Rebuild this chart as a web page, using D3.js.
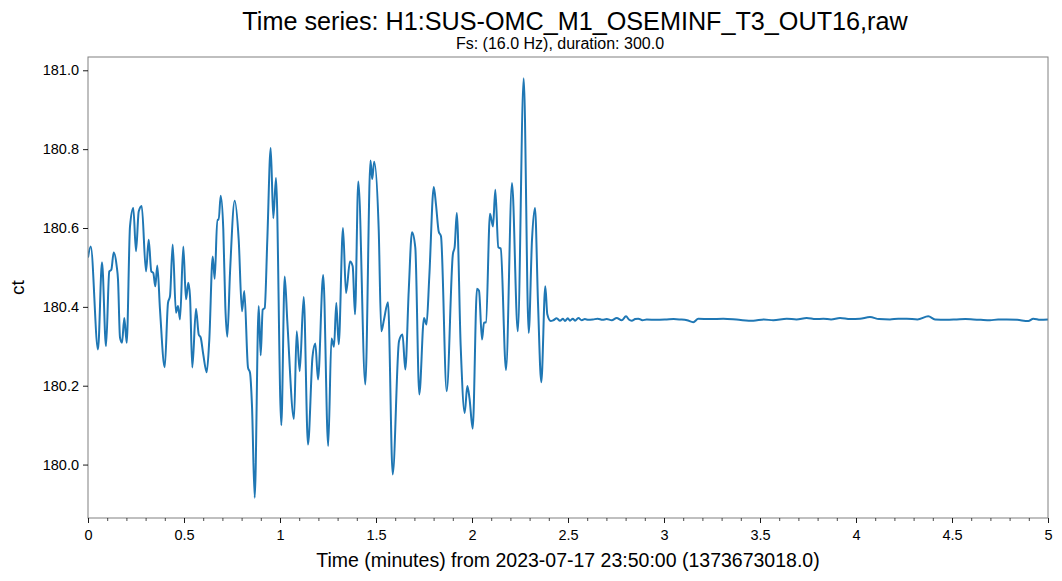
<!DOCTYPE html>
<html>
<head>
<meta charset="utf-8">
<script src="https://cdn.jsdelivr.net/npm/d3@7"></script>
<style>
  body { margin: 0; background: #fff; }
  svg { display: block; font-family: "Liberation Sans", Arial, Helvetica, sans-serif; }
</style>
</head>
<body>
<svg id="chart" width="1062" height="581"></svg>
<script>
const titleText = "Time series: H1:SUS-OMC_M1_OSEMINF_T3_OUT16,raw";
const subtitleText = "Fs: (16.0 Hz), duration: 300.0";
const xLabelText = "Time (minutes) from 2023-07-17 23:50:00 (1373673018.0)";
const yLabelText = "ct";

const xTicks = [0, 0.5, 1, 1.5, 2, 2.5, 3, 3.5, 4, 4.5, 5];
const xTickLabels = ["0", "0.5", "1", "1.5", "2", "2.5", "3", "3.5", "4", "4.5", "5"];
const yTicks = [180.0, 180.2, 180.4, 180.6, 180.8, 181.0];
const yTickLabels = ["180.0", "180.2", "180.4", "180.6", "180.8", "181.0"];

// time in minutes
const timeMin = [
  0, 0.0141, 0.0521, 0.0729, 0.0938, 0.1109, 0.1214, 0.1339, 0.1495, 0.1563,
  0.1667, 0.1771, 0.1891, 0.2016, 0.2188, 0.2359, 0.25, 0.2641, 0.2797, 0.3021,
  0.3161, 0.3297, 0.3401, 0.3505, 0.3609, 0.375, 0.3995, 0.4167, 0.4271, 0.4411,
  0.4583, 0.4688, 0.4792, 0.4964, 0.5104, 0.5224, 0.5313, 0.5432, 0.5625, 0.5766,
  0.5870, 0.6005, 0.6182, 0.6318, 0.6495, 0.6599, 0.6734, 0.6807, 0.6911, 0.7047,
  0.7151, 0.7255, 0.7396, 0.7641, 0.7849, 0.8021, 0.8141, 0.8333, 0.8438, 0.8542,
  0.8682, 0.8891, 0.8995, 0.9099, 0.9203, 0.9339, 0.9516, 0.9651, 0.9792, 1.0068,
  1.0245, 1.0380, 1.0729, 1.0870, 1.1026, 1.1234, 1.1458, 1.1693, 1.1839, 1.1979,
  1.2250, 1.2510, 1.2682, 1.2813, 1.2932, 1.3057, 1.3281, 1.3438, 1.3646, 1.3786,
  1.3906, 1.4078, 1.4443, 1.4714, 1.4802, 1.4906, 1.5141, 1.5276, 1.5417, 1.5625,
  1.5870, 1.6198, 1.6380, 1.6526, 1.6703, 1.6875, 1.7047, 1.7255, 1.75, 1.7630,
  1.7776, 1.8010, 1.8125, 1.8266, 1.8385, 1.8682, 1.9, 1.9099, 1.9208, 1.9411,
  1.9620, 1.9755, 1.9870, 2.0036, 2.0260, 2.0365, 2.0521, 2.0625, 2.0729, 2.0938,
  2.1094, 2.1214, 2.1370, 2.1495, 2.1771, 2.2083, 2.2385, 2.2693, 2.2953, 2.3125,
  2.3281, 2.3438, 2.3609, 2.3818, 2.3922, 2.4099, 2.4234, 2.4410, 2.4583, 2.4740,
  2.4844, 2.4990, 2.5104, 2.5250, 2.5365, 2.5540, 2.5714, 2.5880, 2.6057, 2.6300,
  2.6550, 2.6800, 2.7016, 2.7280, 2.7536, 2.7797, 2.8021, 2.8170, 2.8318, 2.8500,
  2.8661, 2.8880, 2.9099, 2.9600, 3.0141, 3.0500, 3.0833, 3.1200, 3.1526, 3.1786,
  3.2400, 3.3089, 3.3900, 3.4651, 3.5200, 3.5693, 3.6391, 3.6900, 3.7432, 3.7900,
  3.8297, 3.8700, 3.9167, 3.9700, 4.0208, 4.0729, 4.1200, 4.1771, 4.2200, 4.2641,
  4.3200, 4.3766, 4.4115, 4.4700, 4.5245, 4.5700, 4.6109, 4.6500, 4.6979, 4.7400,
  4.7849, 4.8400, 4.8974, 4.9234, 4.9600, 5.0
];

// values in ct
const valueCt = [
  180.525, 180.553, 180.292, 180.513, 180.300, 180.490, 180.494, 180.538, 180.503, 180.469,
  180.322, 180.309, 180.372, 180.309, 180.604, 180.651, 180.541, 180.642, 180.656, 180.490,
  180.570, 180.490, 180.486, 180.452, 180.505, 180.393, 180.247, 180.410, 180.427, 180.558,
  180.385, 180.402, 180.368, 180.553, 180.419, 180.461, 180.427, 180.246, 180.395, 180.330,
  180.322, 180.279, 180.234, 180.317, 180.528, 180.471, 180.621, 180.621, 180.682, 180.596,
  180.402, 180.324, 180.486, 180.669, 180.570, 180.389, 180.440, 180.246, 180.233, 180.148,
  179.916, 180.402, 180.277, 180.393, 180.397, 180.570, 180.803, 180.625, 180.727, 180.100,
  180.477, 180.364, 180.116, 180.338, 180.237, 180.425, 180.051, 180.273, 180.307, 180.216,
  180.481, 180.047, 180.320, 180.299, 180.410, 180.305, 180.600, 180.435, 180.515, 180.503,
  180.381, 180.718, 180.203, 180.771, 180.724, 180.768, 180.596, 180.338, 180.368, 180.412,
  179.975, 180.313, 180.330, 180.241, 180.439, 180.589, 180.550, 180.178, 180.372, 180.355,
  180.477, 180.704, 180.659, 180.591, 180.579, 180.186, 180.532, 180.553, 180.638, 180.300,
  180.131, 180.199, 180.168, 180.091, 180.446, 180.441, 180.317, 180.360, 180.361, 180.636,
  180.604, 180.697, 180.551, 180.548, 180.240, 180.714, 180.338, 180.980, 180.334, 180.570,
  180.651, 180.410, 180.209, 180.452, 180.381, 180.364, 180.366, 180.371, 180.365, 180.370,
  180.364, 180.371, 180.365, 180.370, 180.365, 180.372, 180.366, 180.369, 180.367, 180.368,
  180.370, 180.367, 180.369, 180.366, 180.372, 180.366, 180.376, 180.368, 180.365, 180.369,
  180.370, 180.366, 180.368, 180.367, 180.368, 180.369, 180.368, 180.366, 180.361, 180.370,
  180.369, 180.370, 180.367, 180.365, 180.368, 180.366, 180.370, 180.368, 180.372, 180.369,
  180.370, 180.368, 180.372, 180.369, 180.370, 180.374, 180.369, 180.368, 180.370, 180.370,
  180.368, 180.376, 180.368, 180.367, 180.368, 180.369, 180.368, 180.367, 180.366, 180.368,
  180.368, 180.367, 180.364, 180.370, 180.367, 180.368
];

const margin = { left: 88, right: 1048, top: 57, bottom: 518 };
const svg = d3.select("#chart");

const x = d3.scaleLinear().domain([0, 5]).range([margin.left, margin.right]);
const y = d3.scaleLinear().domain([179.8645, 181.0337]).range([margin.bottom, margin.top]);

const data = timeMin.map((t, i) => ({ t, v: valueCt[i] }));

svg.append("defs").append("clipPath").attr("id", "clip")
  .append("rect").attr("x", margin.left).attr("y", margin.top)
  .attr("width", margin.right - margin.left).attr("height", margin.bottom - margin.top);

const line = d3.line().x(d => x(d.t)).y(d => y(d.v)).curve(d3.curveMonotoneX);
svg.append("path").datum(data)
  .attr("clip-path", "url(#clip)")
  .attr("d", line)
  .attr("fill", "none")
  .attr("stroke", "#1f77b4")
  .attr("stroke-width", 2)
  .attr("stroke-linejoin", "round");

// frame
svg.append("rect")
  .attr("x", margin.left).attr("y", margin.top)
  .attr("width", margin.right - margin.left).attr("height", margin.bottom - margin.top)
  .attr("fill", "none").attr("stroke", "#808080").attr("stroke-width", 1);

// x axis
const minorX = d3.range(0, 51).map(i => i / 10).filter(v => Math.abs(v * 2 - Math.round(v * 2)) > 1e-6);
const xAxis = d3.axisBottom(x).tickValues(xTicks)
  .tickFormat((d, i) => xTickLabels[i]).tickSize(5).tickPadding(7);
const gx = svg.append("g").attr("transform", `translate(0,${margin.bottom})`).call(xAxis);
gx.select(".domain").remove();
gx.selectAll(".tick line").attr("stroke", "#000").attr("stroke-width", 0.9);
gx.selectAll(".tick text").attr("font-size", 14.5).attr("fill", "#000")
  .attr("font-family", "Liberation Sans, Arial, sans-serif");
const xMinor = d3.axisBottom(x).tickValues(minorX).tickFormat("").tickSize(3);
const gxm = svg.append("g").attr("transform", `translate(0,${margin.bottom})`).call(xMinor);
gxm.select(".domain").remove();
gxm.selectAll(".tick line").attr("stroke", "#000").attr("stroke-width", 0.7);

// y axis
const yAxis = d3.axisLeft(y).tickValues(yTicks)
  .tickFormat((d, i) => yTickLabels[i]).tickSize(5).tickPadding(4);
const gy = svg.append("g").attr("transform", `translate(${margin.left},0)`).call(yAxis);
gy.select(".domain").remove();
gy.selectAll(".tick line").attr("stroke", "#000").attr("stroke-width", 0.9);
gy.selectAll(".tick text").attr("font-size", 14.5).attr("fill", "#000")
  .attr("font-family", "Liberation Sans, Arial, sans-serif");

// titles
const cx = (margin.left + margin.right) / 2;
svg.append("text").attr("x", cx + 7).attr("y", 30).attr("text-anchor", "middle")
  .attr("font-size", 25.2).attr("fill", "#000").text(titleText);
svg.append("text").attr("x", cx - 8).attr("y", 49).attr("text-anchor", "middle")
  .attr("font-size", 16).attr("fill", "#000").text(subtitleText);
svg.append("text").attr("x", cx).attr("y", 567).attr("text-anchor", "middle")
  .attr("font-size", 19.5).attr("fill", "#000").text(xLabelText);
svg.append("text").attr("transform", `translate(24,${(margin.top + margin.bottom) / 2}) rotate(-90)`)
  .attr("text-anchor", "middle").attr("font-size", 19).attr("fill", "#000").text(yLabelText);
</script>
</body>
</html>
